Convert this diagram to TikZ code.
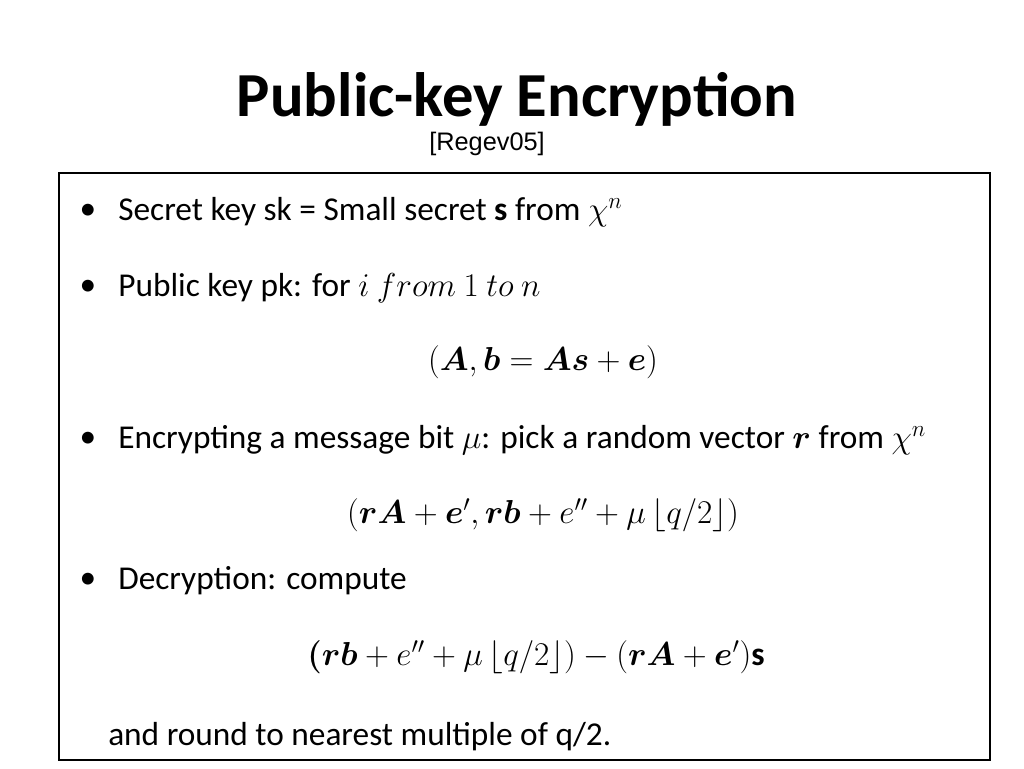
\documentclass[tikz,border=0pt]{standalone}
\usepackage{amsmath,bm}
\usepackage{fontspec}
\setmainfont{Carlito}
\newfontfamily\arialf{Liberation Sans}
\begin{document}
\begin{tikzpicture}[x=0.75pt,y=-0.75pt,
  body/.style={anchor=west,inner sep=0pt,font=\fontsize{25}{30}\selectfont},
  eq/.style={inner sep=0pt,font=\fontsize{25}{30}\selectfont},
  bul/.style={inner sep=0pt,font=\fontsize{25}{30}\selectfont}]
\useasboundingbox (0,0) rectangle (1024,768);
\node[inner sep=0pt,font=\bfseries\fontsize{47}{52}\selectfont] (title) at (517,99) {Public-key Encryption};
\node[inner sep=0pt,font=\arialf\fontsize{19}{22}\selectfont] (ref) at (487,144) {[Regev05]};
\draw[line width=1.6pt] (59,173) rectangle (990,760);
\node[bul] (b1) at (88,212) {•};
\node[body] (t1) at (118,212) {Secret key sk = Small secret \textbf{s} from $\chi^n$};
\node[bul] (b2) at (88,288) {•};
\node[body] (t2) at (118,288) {Public key pk: for $i\ from\ 1\ to\ n$};
\node[eq] (e1) at (543,362) {$(\bm{A},\bm{b}=\bm{A}\bm{s}+\bm{e})$};
\node[bul] (b3) at (88,440) {•};
\node[body] (t3) at (118,440) {Encrypting a message bit $\mu$: pick a random vector $\bm{r}$ from $\chi^n$};
\node[eq] (e2) at (543,515) {$(\bm{r}\bm{A}+\bm{e}',\bm{r}\bm{b}+e''+\mu\,\lfloor q/2\rfloor)$};
\node[bul] (b4) at (88,581) {•};
\node[body] (t4) at (118,581) {Decryption: compute};
\node[eq] (e3) at (536,657) {$\bm{(}\bm{r}\bm{b}+e''+\mu\,\lfloor q/2\rfloor)-(\bm{r}\bm{A}+\bm{e}')\textbf{s}$};
\node[body] (t5) at (108,737) {and round to nearest multiple of q/2.};
\end{tikzpicture}
\end{document}
